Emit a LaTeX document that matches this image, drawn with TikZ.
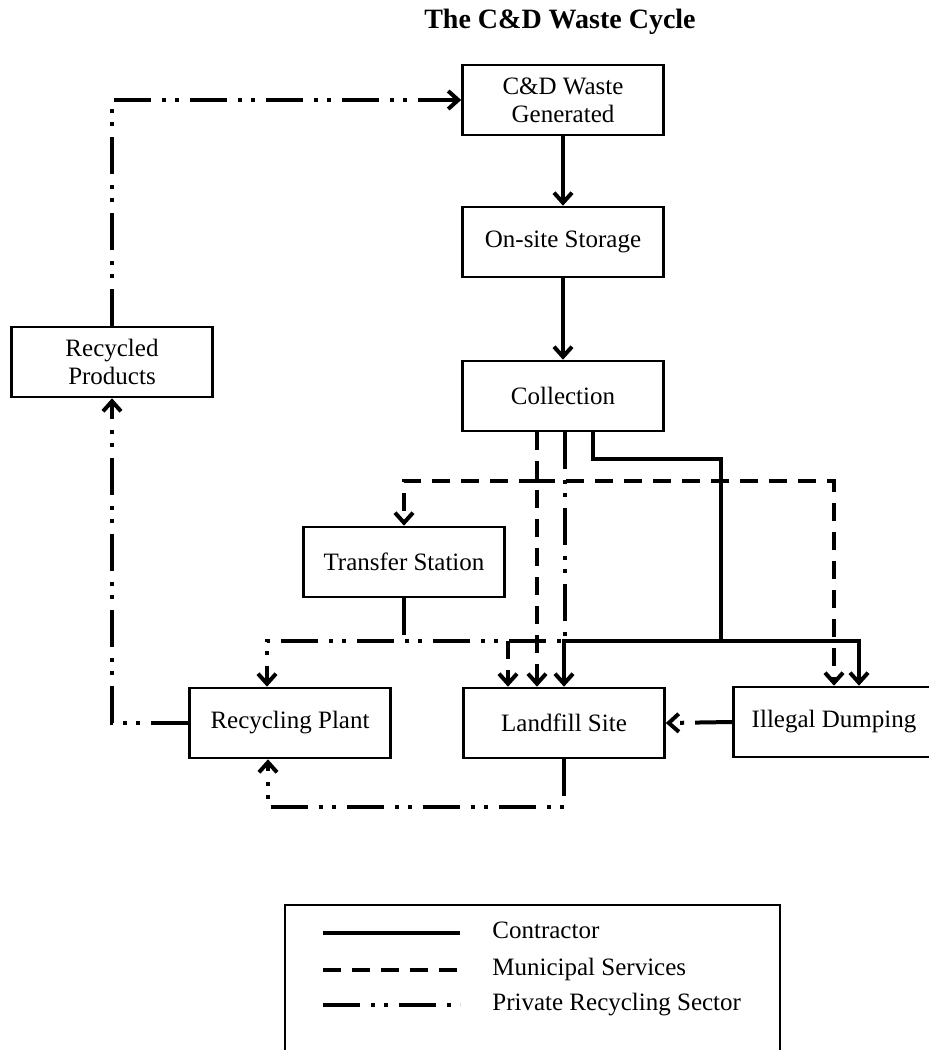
\documentclass[tikz,border=0pt]{standalone}
\usepackage{fontspec}
\setmainfont{Liberation Serif}
\usepackage{tikz}
\usetikzlibrary{calc, arrows.meta}

\newcommand{\boxfont}{\fontsize{12.5}{14}\selectfont}
\newcommand{\headfont}{\fontsize{14}{16}\selectfont\bfseries}

\begin{document}
\begin{tikzpicture}[x=0.5pt, y=-0.5pt,
  stage/.style={draw, line width=1.3pt, minimum width=100.5pt, minimum height=35pt, align=center, font=\boxfont},
  contractor/.style={line width=2pt},
  municipal/.style={line width=2pt, dash pattern=on 9pt off 5.5pt},
  private/.style={line width=2pt, dash pattern=on 18.5pt off 5.5pt on 2pt off 4.5pt on 2pt off 5.5pt},
  tip/.style={-{Straight Barb[length=5pt, width=9pt]}}]
\useasboundingbox (0,0) rectangle (928,1050);
\node [font=\headfont] (title) at (560,22) {The C\&D Waste Cycle};
\node [stage] (cdw) at (563,100) {C\&D Waste\\Generated};
\node [stage] (store) at (563,242) {On-site Storage};
\node [stage] (coll) at (563,396) {Collection};
\node [stage] (trans) at (404,562) {Transfer Station};
\node [stage] (recprod) at (112,362) {Recycled\\Products};
\node [stage] (recplant) at (290,723) {Recycling Plant};
\node [stage] (landfill) at (564,723) {Landfill Site};
\node [stage] (illegal) at (834,722) {Illegal Dumping};
\coordinate (mjoin) at (537,481);
\coordinate (cjoin) at (721,459);
\coordinate (ljoin) at (721,641);
\coordinate (tjoin) at (508,641);
\coordinate (rjoin) at (267,641);
\coordinate (bjoin) at (268,807);
\draw [contractor, tip] (cdw) -- (store);
\draw [contractor, tip] (store) -- (coll);
\draw [contractor] ($(coll.south)+(30,0)$) |- (cjoin) -- (ljoin);
\draw [contractor, tip] (ljoin) -| (landfill.north);
\draw [contractor, tip] (ljoin) -| ($(illegal.north)+(25,0)$);
\draw [municipal, tip] ($(coll.south)+(-26,0)$) -- ($(landfill.north)+(-27,0)$);
\draw [municipal, tip] (mjoin) -| (trans.north);
\draw [municipal, tip] (mjoin) -| (illegal.north);
\draw [municipal, tip] (tjoin) -- (tjoin |- landfill.north);
\draw [private, tip] ($(coll.south)+(2,0)$) |- (rjoin) -- (rjoin |- recplant.north);
\draw [private] (trans.south) -- (trans.south |- rjoin);
\draw [private, tip] (illegal.west) -- (landfill.east);
\draw [private, tip] (landfill.south) |- (bjoin) -- (bjoin |- recplant.south);
\draw [private, tip] (recplant.west) -| (recprod.south);
\draw [private, tip] (recprod.north) |- (cdw.west);
\draw [line width=1.3pt] (285,1070) -- (285,905) -- (780,905) -- (780,1070);
\draw [contractor] (323,933) -- (460,933);
\draw [municipal] (323,970) -- (460,970);
\draw [private] (323,1005) -- (460,1005);
\node [anchor=base west, inner sep=0pt, font=\boxfont] (lcon) at (492,938) {Contractor};
\node [anchor=base west, inner sep=0pt, font=\boxfont] (lmun) at (492,975) {Municipal Services};
\node [anchor=base west, inner sep=0pt, font=\boxfont] (lpri) at (492,1010) {Private Recycling Sector};
\end{tikzpicture}
\end{document}
